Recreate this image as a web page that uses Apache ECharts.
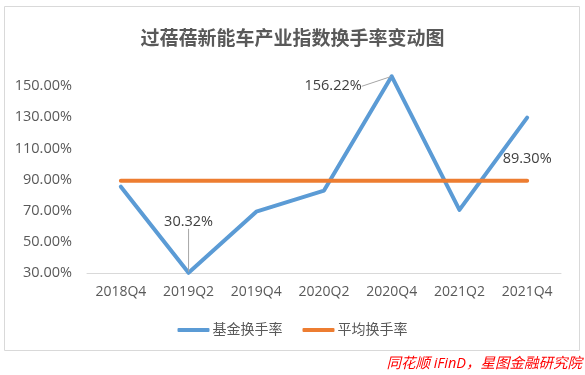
<!DOCTYPE html>
<html>
<head>
<meta charset="utf-8">
<script src="https://cdn.jsdelivr.net/npm/echarts@6/dist/echarts.min.js"></script>
<style>
html,body{margin:0;padding:0;background:#fff;}
#chart{width:585px;height:375px;}
</style>
</head>
<body>
<div id="chart"></div>
<script>
const titleText = '过蓓蓓新能车产业指数换手率变动图';
const categories = ['2018Q4','2019Q2','2019Q4','2020Q2','2020Q4','2021Q2','2021Q4'];
const fundName = '基金换手率';
const avgName = '平均换手率';
const fundTurnover = [85.5, 30.32, 69.5, 83.0, 156.22, 70.6, 129.7];
const avgTurnover = [89.30, 89.30, 89.30, 89.30, 89.30, 89.30, 89.30];
const yMin = 30, yMax = 160, yInterval = 20;
const sourceText = '同花顺 iFinD，星图金融研究院';

const FONT = '"Open Sans", "Noto Sans CJK SC", sans-serif';
const chart = echarts.init(document.getElementById('chart'), null, {renderer:'canvas'});

const fundData = fundTurnover.map((v, i) => {
  if (i === 1) return {value: v, label: {show: true, position: 'top', distance: 5}};
  if (i === 4) return {value: v, label: {show: true, position: 'left', distance: 5}};
  return v;
});
const avgData = avgTurnover.map((v, i) => {
  if (i === avgTurnover.length - 1) return {value: v, label: {show: true, position: 'top', distance: 14}};
  return v;
});

chart.setOption({
  animation: false,
  textStyle: {fontFamily: FONT},
  title: {
    text: titleText, left: 'center', top: 25,
    textStyle: {fontSize: 19, fontWeight: 'bold', color: '#595959', fontFamily: FONT}
  },
  graphic: [
    {type: 'rect', shape: {x: 4.5, y: 6.5, width: 575, height: 344},
     style: {fill: 'none', stroke: '#d9d9d9', lineWidth: 1}, z: -1},
    {type: 'text', right: 3, top: 357,
     style: {text: sourceText, fill: '#ff0000', font: 'italic 14.5px ' + FONT}}
  ],
  legend: {
    data: [fundName, avgName],
    left: 'center', top: 318,
    itemWidth: 32, itemHeight: 4, itemGap: 20,
    icon: 'roundRect',
    textStyle: {fontSize: 14, color: '#595959', fontFamily: FONT, padding: [0,0,0,-2]}
  },
  grid: {left: 87, right: 24, top: 70.4, bottom: 101.7, containLabel: false},
  xAxis: {
    type: 'category', data: categories, boundaryGap: true,
    axisLine: {lineStyle: {color: '#d9d9d9', width: 1}},
    axisTick: {show: false},
    axisLabel: {fontSize: 14, color: '#595959', margin: 12, fontFamily: FONT}
  },
  yAxis: {
    type: 'value', min: yMin, max: yMax, interval: yInterval,
    splitLine: {show: false},
    axisLine: {show: false}, axisTick: {show: false},
    axisLabel: {fontSize: 14.5, color: '#595959', margin: 15, fontFamily: FONT,
      showMaxLabel: false,
      formatter: v => v.toFixed(2) + '%'}
  },
  series: [
    {
      name: fundName, type: 'line', data: fundData,
      symbol: 'circle', symbolSize: 2, showSymbol: true,
      lineStyle: {color: '#5B9BD5', width: 4, cap: 'round', join: 'round'},
      itemStyle: {color: '#5B9BD5'},
      label: {fontSize: 14.5, color: '#404040', fontFamily: FONT,
        formatter: p => p.value.toFixed(2) + '%'},
      labelLine: {show: true, lineStyle: {color: '#a6a6a6', width: 1}},
      labelLayout: function (p) {
        if (p.dataIndex === 1) return {dy: -38};
        if (p.dataIndex === 4) return {dx: -24, dy: 10};
        return {};
      },
      z: 2
    },
    {
      name: avgName, type: 'line', data: avgData,
      symbol: 'circle', symbolSize: 2, showSymbol: true,
      lineStyle: {color: '#ED7D31', width: 4, cap: 'round'},
      itemStyle: {color: '#ED7D31'},
      label: {fontSize: 14.5, color: '#404040', fontFamily: FONT,
        formatter: p => p.value.toFixed(2) + '%'},
      z: 3
    }
  ]
});
</script>
</body>
</html>
